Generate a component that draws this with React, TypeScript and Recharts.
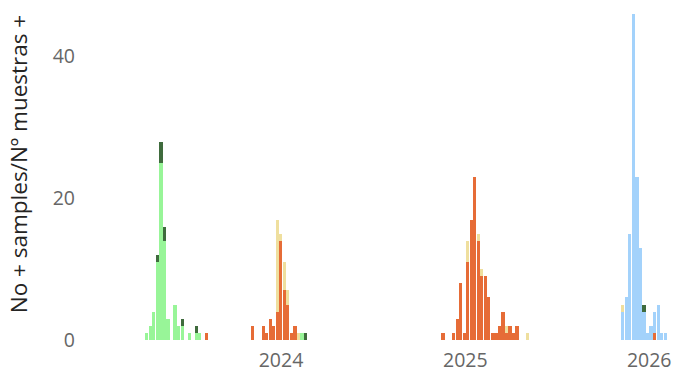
import { BarChart, Bar, XAxis, YAxis, Label } from "recharts";

// week index relative to 2024-01-01 (bin centres), one row per weekly bin
const weeks = [
  // 2023 wave
  -38, -37, -36, -35, -34, -33, -32, -31, -30, -29, -28, -27, -26, -25, -24, -23, -22, -21,
  // 2024 wave
  -8, -7, -6, -5, -4, -3, -2, -1, 0, 1, 2, 3, 4, 5, 6, 7,
  // 2025 wave
  46, 47, 48, 49, 50, 51, 52, 53, 54, 55, 56, 57, 58, 59, 60, 61, 62, 63, 64, 65, 66, 67, 68, 69, 70,
  // 2026 wave
  97, 98, 99, 100, 101, 102, 103, 104, 105, 106, 107, 108, 109,
];

const orange = [
  0, 0, 0, 0, 0, 0, 0, 0, 0, 0, 0, 0, 0, 0, 0, 0, 0, 1,
  2, 0, 0, 2, 1, 3, 2, 4, 14, 7, 5, 1, 2, 0, 0, 0,
  1, 0, 0, 1, 3, 8, 1, 11, 17, 23, 14, 9, 9, 6, 1, 1, 2, 4, 1, 2, 1, 2, 0, 0, 0,
  0, 0, 0, 0, 0, 0, 0, 0, 0, 1, 0, 0, 0,
];
const blue = [
  0, 0, 0, 0, 0, 0, 0, 0, 0, 0, 0, 0, 0, 0, 0, 0, 0, 0,
  0, 0, 0, 0, 0, 0, 0, 0, 0, 0, 0, 0, 0, 0, 0, 0,
  0, 0, 0, 0, 0, 0, 0, 0, 0, 0, 0, 0, 0, 0, 0, 0, 0, 0, 0, 0, 0, 0, 0, 0, 0,
  4, 6, 15, 46, 23, 13, 4, 1, 2, 3, 5, 1, 1,
];
const lightGreen = [
  1, 2, 4, 11, 25, 14, 3, 0, 5, 2, 2, 0, 1, 0, 1, 1, 0, 0,
  0, 0, 0, 0, 0, 0, 0, 0, 0, 0, 0, 0, 0, 0, 1, 0,
  0, 0, 0, 0, 0, 0, 0, 0, 0, 0, 0, 0, 0, 0, 0, 0, 0, 0, 0, 0, 0, 0, 0, 0, 0,
  0, 0, 0, 0, 0, 0, 0, 0, 0, 0, 0, 0, 0,
];
const darkGreen = [
  0, 0, 0, 1, 3, 2, 0, 0, 0, 0, 1, 0, 0, 0, 1, 0, 0, 0,
  0, 0, 0, 0, 0, 0, 0, 0, 0, 0, 0, 0, 0, 0, 0, 1,
  0, 0, 0, 0, 0, 0, 0, 0, 0, 0, 0, 0, 0, 0, 0, 0, 0, 0, 0, 0, 0, 0, 0, 0, 0,
  0, 0, 0, 0, 0, 0, 1, 0, 0, 0, 0, 0, 0,
];
const yellow = [
  0, 0, 0, 0, 0, 0, 0, 0, 0, 0, 0, 0, 0, 0, 0, 0, 0, 0,
  0, 0, 0, 0, 0, 0, 0, 13, 1, 4, 2, 0, 0, 1, 0, 0,
  0, 0, 0, 0, 0, 0, 0, 3, 0, 0, 1, 1, 0, 0, 0, 0, 0, 0, 1, 0, 0, 0, 0, 0, 1,
  1, 0, 0, 0, 0, 0, 0, 0, 0, 0, 0, 0, 0,
];

const yearStarts = ["2024-01-01", "2025-01-01", "2026-01-01"];
const yearLabels = ["2024", "2025", "2026"];
const yTicks = [0, 20, 40];

const DAY = 24 * 3600 * 1000;
const origin = Date.parse(yearStarts[0]);
const yearTicks = yearStarts.map((d) => (Date.parse(d) - origin) / DAY / 7);

const data = weeks.map((w, i) => ({
  week: w,
  orange: orange[i],
  blue: blue[i],
  lightGreen: lightGreen[i],
  darkGreen: darkGreen[i],
  yellow: yellow[i],
}));

const SERIES = [
  { key: "orange", color: "#E66C37" },
  { key: "blue", color: "#A3D2FB" },
  { key: "lightGreen", color: "#98F598" },
  { key: "darkGreen", color: "#3F6B3D" },
  { key: "yellow", color: "#EFDF9E" },
];

const FONT = "'Open Sans', 'Noto Sans', sans-serif";

export default function App() {
  return (
    <div style={{ position: "absolute", left: 0, top: 0, fontFamily: FONT }}>
      <BarChart
        width={677}
        height={371}
        data={data}
        margin={{ top: 14, right: 7, left: 0, bottom: 0 }}
      >
        <XAxis
          dataKey="week"
          type="number"
          domain={[-54.17, 110.32]}
          ticks={yearTicks}
          interval={0}
          tickFormatter={(v) => yearLabels[yearTicks.indexOf(v)] ?? ""}
          axisLine={false}
          tickLine={false}
          tickSize={0}
          tickMargin={13}
          height={31}
          tick={{ fill: "#666666", fontSize: 19.5, fontFamily: FONT }}
        />
        <YAxis
          type="number"
          domain={[0, 46]}
          ticks={yTicks}
          interval={0}
          axisLine={false}
          tickLine={false}
          tickSize={0}
          tickMargin={15}
          width={90}
          tick={{ fill: "#666666", fontSize: 19.5, fontFamily: FONT }}
        >
          <Label
            content={() => (
              <text
                x={18}
                y={164}
                transform="rotate(-90 18 164)"
                textAnchor="middle"
                dominantBaseline="central"
                fill="#252423"
                fontSize={22.5}
                fontFamily={FONT}
              >
                No + samples/Nº muestras +
              </text>
            )}
          />
        </YAxis>
        {SERIES.map((s) => (
          <Bar
            key={s.key}
            dataKey={s.key}
            stackId="a"
            fill={s.color}
            barSize={4}
            shapeRendering="crispEdges"
            isAnimationActive={false}
          />
        ))}
      </BarChart>
    </div>
  );
}
